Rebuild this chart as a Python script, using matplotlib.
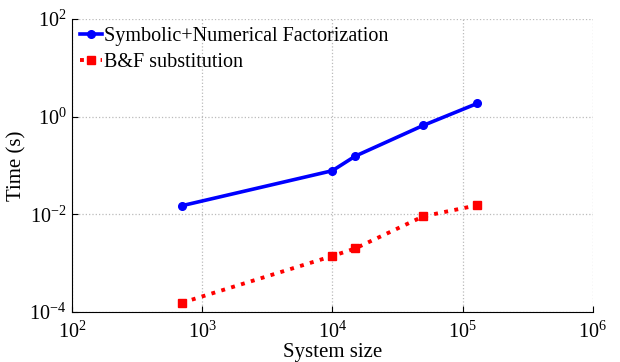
import numpy as np
import matplotlib
matplotlib.use('Agg')
import matplotlib.pyplot as plt

plt.rcParams['font.family'] = ['Liberation Serif', 'DejaVu Serif']
plt.rcParams['mathtext.fontset'] = 'custom'
plt.rcParams['mathtext.rm'] = 'Liberation Serif'
plt.rcParams['mathtext.it'] = 'Liberation Serif:italic'

# data
system_size = [700, 1.0e4, 1.5e4, 5.0e4, 1.3e5]
factorization_time = [0.015, 0.078, 0.155, 0.66, 1.86]
substitution_time = [1.55e-4, 1.4e-3, 2.0e-3, 9.1e-3, 0.0153]

labels = ['Symbolic+Numerical Factorization', 'B&F substitution']

fig = plt.figure(figsize=(6.2, 3.62), dpi=100)
ax = fig.add_axes([0.116, 0.138, 0.84, 0.81])

ax.loglog(system_size, factorization_time, '-o', color='blue', lw=2.6,
          markersize=5.5, label=labels[0])
ax.loglog(system_size, substitution_time, ':s', color='red', lw=2.8,
          markersize=5.5, label=labels[1])

ax.set_xlim(1e2, 1e6)
ax.set_ylim(1e-4, 1e2)
ax.minorticks_off()
ax.set_xticks([1e2, 1e3, 1e4, 1e5, 1e6])
ax.set_yticks([1e-4, 1e-2, 1e0, 1e2])

ax.grid(True, which='major', linestyle=':', color='#bbbbbb', linewidth=0.9)
ax.spines['top'].set_visible(False)
ax.spines['right'].set_visible(False)
ax.tick_params(direction='in', length=4, labelsize=14.5)
ax.tick_params(axis='x', pad=7)
ax.tick_params(axis='y', pad=4)

ax.set_xlabel('System size', fontsize=15, labelpad=0)
ax.set_ylabel('Time (s)', fontsize=15, labelpad=2)

ax.legend(loc='upper left', frameon=False, fontsize=14.5, handlelength=1.1,
          handletextpad=0.1, borderaxespad=0.1, borderpad=0.3,
          labelspacing=0.35)

fig.savefig('out.png', dpi=100)
